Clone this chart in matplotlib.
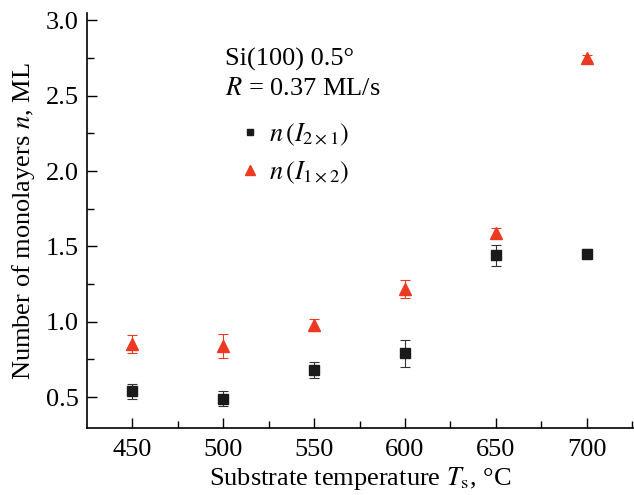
import matplotlib.pyplot as plt
import matplotlib
from matplotlib.lines import Line2D
matplotlib.rcParams['font.family'] = ['Liberation Serif', 'DejaVu Serif']
matplotlib.rcParams['mathtext.fontset'] = 'stix'

# 数据
temps = [450, 500, 550, 600, 650, 700]
n_2x1 = [0.54, 0.49, 0.68, 0.79, 1.44, 1.45]
err_2x1 = [0.05, 0.05, 0.05, 0.09, 0.07, 0.03]
n_1x2 = [0.85, 0.84, 0.98, 1.22, 1.59, 2.75]
err_1x2 = [0.06, 0.08, 0.04, 0.06, 0.03, 0.02]

red = '#ec3a22'
fs = 19

fig = plt.figure(figsize=(6.34, 4.95), dpi=100)
ax = fig.add_axes([0.137, 0.135, 0.863, 0.838])

# 两组数据带误差棒
ax.errorbar(temps, n_2x1, yerr=err_2x1, fmt='s', color='#1a1a1a', ms=7,
            ecolor='#333333', elinewidth=0.8, capsize=3.5, capthick=0.8)
ax.errorbar(temps, n_1x2, yerr=err_1x2, fmt='^', color=red, ms=9,
            ecolor=red, elinewidth=0.8, capsize=3.5, capthick=0.8)

ax.set_xlim(425, 726)
ax.set_ylim(0.294, 3.046)
ax.set_xticks([450, 500, 550, 600, 650, 700])
ax.set_xticks([475, 525, 575, 625, 675, 725], minor=True)
ax.set_yticks([0.5, 1.0, 1.5, 2.0, 2.5, 3.0])
ax.set_yticks([0.75, 1.25, 1.75, 2.25, 2.75], minor=True)
ax.yaxis.set_major_formatter(matplotlib.ticker.FormatStrFormatter('%.1f'))
ax.tick_params(direction='in', length=7, width=1, labelsize=fs)
ax.tick_params(axis='x', pad=8)
ax.tick_params(axis='y', pad=6)
ax.tick_params(which='minor', direction='in', length=5, width=1)
ax.spines['top'].set_visible(False)
ax.spines['right'].set_visible(False)
for s in ['left', 'bottom']:
    ax.spines[s].set_linewidth(1.2)

ax.set_xlabel(r'Substrate temperature $T_{\mathrm{s}}$, °C', fontsize=fs, labelpad=3)
ax.set_ylabel(r'Number of monolayers $n$, ML', fontsize=fs, labelpad=6)

ax.text(0.252, 0.875, 'Si(100) 0.5°', transform=ax.transAxes, fontsize=fs, va='baseline')
ax.text(0.252, 0.802, r'$R$ = 0.37 ML/s', transform=ax.transAxes, fontsize=fs, va='baseline')

# 图例
handles = [Line2D([], [], ls='none', marker='s', color='#1a1a1a', ms=5),
           Line2D([], [], ls='none', marker='^', color=red, ms=7)]
labels = [r'$n\,(I_{2\times1})$', r'$n\,(I_{1\times2})$']
ax.legend(handles, labels, loc='upper left', bbox_to_anchor=(0.25, 0.77),
          frameon=False, fontsize=fs, handletextpad=0.2, handlelength=1.0,
          labelspacing=0.45, borderpad=0)

plt.savefig('out.png', dpi=100)
